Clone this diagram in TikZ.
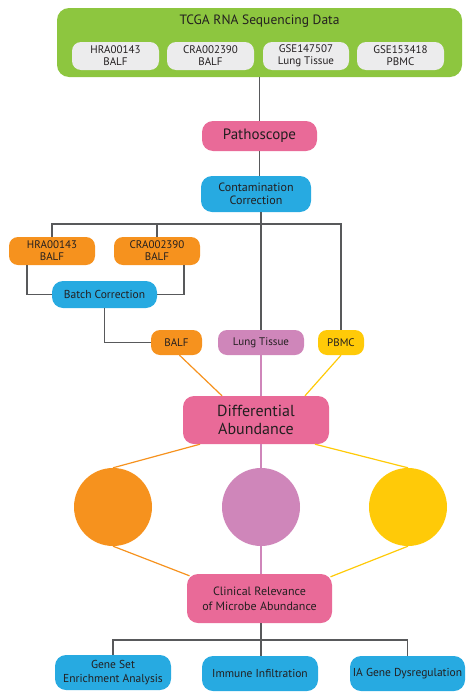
\documentclass[tikz,border=0pt]{standalone}
\usepackage{fontspec}
\setmainfont{PT Sans}

\definecolor{tcgagreen}{RGB}{141,198,63}
\definecolor{seqgray}{RGB}{236,236,237}
\definecolor{stepink}{RGB}{233,106,152}
\definecolor{stepblue}{RGB}{39,170,225}
\definecolor{balforange}{RGB}{246,146,30}
\definecolor{lungpink}{RGB}{207,134,186}
\definecolor{pbmcyellow}{RGB}{255,202,8}
\definecolor{wire}{RGB}{88,89,91}
\definecolor{txt}{RGB}{35,31,32}

\tikzset{
  box/.style={rounded corners=9pt, inner sep=0pt, align=center, text=txt,
    font=\fontsize{11}{12}\selectfont},
  seqbox/.style={box, fill=seqgray},
  pinkbox/.style={box, fill=stepink, rounded corners=11pt},
  bluebox/.style={box, fill=stepblue, rounded corners=11pt, font=\fontsize{12}{13.5}\selectfont},
  wireline/.style={draw=wire, line width=1.15pt},
  blob/.style={circle, minimum size=78pt, inner sep=0pt}
}

\begin{document}
\begin{tikzpicture}[x=1pt, y=-1pt]
    \useasboundingbox (0,0) rectangle (474,699);

    % draw data sources
    \node[box, fill=tcgagreen, rounded corners=12pt, minimum width=405pt, minimum height=69pt] (tcga) at (259.5,42.5) {};
    \node[text=txt, font=\fontsize{13.5}{15}\selectfont] (tcgatitle) at (259.5,21.5) {TCGA RNA Sequencing Data};
    \node[seqbox, minimum width=87pt, minimum height=28pt] (hra) at (115.5,56) {HRA00143\\BALF};
    \node[seqbox, minimum width=87pt, minimum height=28pt] (cra) at (210.5,56) {CRA002390\\BALF};
    \node[seqbox, minimum width=86pt, minimum height=28pt] (gsea) at (306,56) {GSE147507\\Lung Tissue};
    \node[seqbox, minimum width=87pt, minimum height=28pt] (gseb) at (400.5,56) {GSE153418\\PBMC};

    % draw processing steps
    \node[pinkbox, minimum width=115pt, minimum height=30pt, font=\fontsize{15}{17}\selectfont] (patho) at (259.5,136) {Pathoscope};
    \node[bluebox, minimum width=110pt, minimum height=36pt] (contam) at (256,194) {Contamination\\Correction};
    \node[box, fill=balforange, minimum width=86pt, minimum height=28pt] (hrab) at (52,251) {HRA00143\\BALF};
    \node[box, fill=balforange, minimum width=86pt, minimum height=28pt] (crab) at (157,251) {CRA002390\\BALF};
    \node[bluebox, minimum width=105pt, minimum height=27pt, font=\fontsize{11.5}{13}\selectfont] (batch) at (104.5,294.5) {Batch Correction};

    % draw tissue groups
    \node[box, fill=balforange, minimum width=51pt, minimum height=25pt] (balf) at (176.5,342.5) {BALF};
    \node[box, fill=lungpink, minimum width=86pt, minimum height=25pt] (lung) at (261,342.5) {Lung Tissue};
    \node[box, fill=pbmcyellow, minimum width=46pt, minimum height=25pt] (pbmc) at (341,342.5) {PBMC};

    % draw analysis
    \node[pinkbox, minimum width=146pt, minimum height=48pt, font=\fontsize{16}{18}\selectfont] (diff) at (256,420) {Differential\\Abundance};
    \node[blob, fill=balforange] (dotbalf) at (113,507) {};
    \node[blob, fill=lungpink] (dotlung) at (261,507) {};
    \node[blob, fill=pbmcyellow] (dotpbmc) at (408,507) {};
    \node[pinkbox, minimum width=145pt, minimum height=49pt, font=\fontsize{12}{15}\selectfont] (clin) at (259.5,598.5) {Clinical Relevance\\of Microbe Abundance};
    \node[bluebox, minimum width=116pt, minimum height=35pt, font=\fontsize{11.5}{13.5}\selectfont] (enrich) at (113,672.5) {Gene Set\\Enrichment Analysis};
    \node[bluebox, minimum width=116pt, minimum height=35pt, font=\fontsize{11.5}{13.5}\selectfont] (immune) at (260,673.5) {Immune Infiltration};
    \node[bluebox, minimum width=115pt, minimum height=35pt, font=\fontsize{11.5}{13.5}\selectfont] (iagene) at (407.5,673.5) {IA Gene Dysregulation};

    % draw gray wiring
    \coordinate (split) at (261,224);
    \coordinate (join) at (261,640);
    \draw[wireline] (tcga.south) -- (patho.north);
    \draw[wireline] (patho.south) -- (patho.south |- contam.north);
    \draw[wireline] (contam.south -| split) -- (lung.north);
    \draw[wireline] (hrab.north) |- (split) -| (pbmc.north);
    \draw[wireline] (crab.north) -- (crab.north |- split);
    \draw[wireline] ([xshift=-25pt]hrab.south) |- (batch.west);
    \draw[wireline] ([xshift=27pt]crab.south) |- (batch.east);
    \draw[wireline] (batch.south) |- (balf.west);
    \draw[wireline] (clin.south -| join) -- (join);
    \draw[wireline] (enrich.north) |- (join) -| (iagene.north);
    \draw[wireline] (join) -- (immune.north -| join);

    % draw coloured links
    \draw[balforange, line width=1.2pt] ([xshift=3pt]balf.south) -- ([xshift=-34pt]diff.north);
    \draw[lungpink, line width=1.2pt] (lung.south) -- (lung.south |- diff.north);
    \draw[pbmcyellow, line width=1.2pt] (pbmc.south) -- ([xshift=49pt]diff.north);
    \draw[balforange, line width=1.2pt] ([xshift=-56pt]diff.south) -- (dotbalf.north);
    \draw[lungpink, line width=1.2pt] (diff.south -| dotlung) -- (dotlung.north);
    \draw[pbmcyellow, line width=1.2pt] ([xshift=59pt]diff.south) -- (dotpbmc.north);
    \draw[balforange, line width=1.2pt] (dotbalf.south) -- ([xshift=-70pt,yshift=-2pt]clin.north);
    \draw[lungpink, line width=1.2pt] (dotlung.south) -- (dotlung.south |- clin.north);
    \draw[pbmcyellow, line width=1.2pt] (dotpbmc.south) -- ([xshift=71pt,yshift=-3pt]clin.north);
\end{tikzpicture}
\end{document}
